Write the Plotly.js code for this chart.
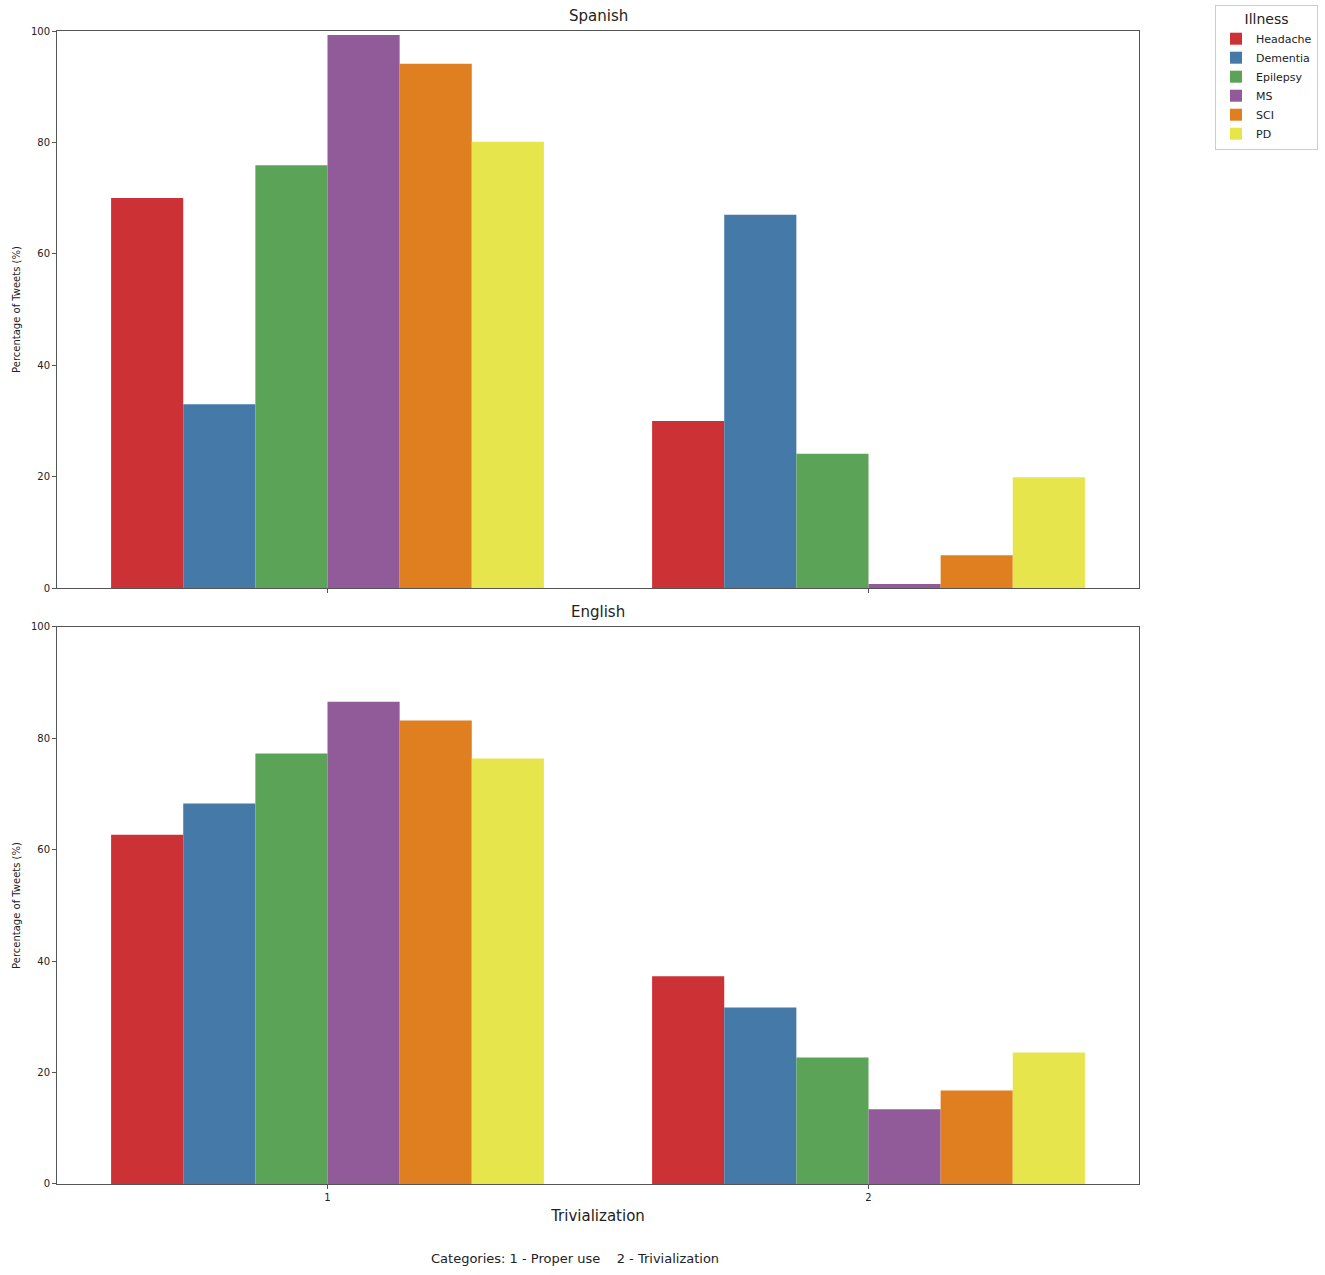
<!DOCTYPE html>
<html>
<head>
<meta charset="utf-8">
<script src="https://cdn.plot.ly/plotly-3.0.1.min.js"></script>
<style>
  body { margin: 0; background: #fff; }
  #chart { width: 1325px; height: 1275px; }
</style>
</head>
<body>
<div id="chart"></div>
<script>
// categories on the x axis
var categories = ['1', '2'];
var illnesses = ['Headache', 'Dementia', 'Epilepsy', 'MS', 'SCI', 'PD'];
var colors = ['#cc3135', '#457aa8', '#5ba357', '#915a99', '#e07f1f', '#e6e64c'];

// percentage of tweets, [proper use, trivialization]
var spanishHeadache = [70.0, 30.0];
var spanishDementia = [33.0, 67.0];
var spanishEpilepsy = [75.9, 24.1];
var spanishMS = [99.3, 0.7];
var spanishSCI = [94.1, 5.9];
var spanishPD = [80.1, 19.9];

var englishHeadache = [62.7, 37.3];
var englishDementia = [68.3, 31.7];
var englishEpilepsy = [77.3, 22.7];
var englishMS = [86.6, 13.4];
var englishSCI = [83.2, 16.8];
var englishPD = [76.4, 23.6];

var spanish = [spanishHeadache, spanishDementia, spanishEpilepsy, spanishMS, spanishSCI, spanishPD];
var english = [englishHeadache, englishDementia, englishEpilepsy, englishMS, englishSCI, englishPD];

var font = 'DejaVu Sans, sans-serif';
var data = [];

illnesses.forEach(function (name, i) {
  data.push({
    type: 'bar',
    name: name,
    x: categories,
    y: spanish[i],
    xaxis: 'x2',
    yaxis: 'y2',
    marker: {color: colors[i]},
    legendgroup: name,
    hoverinfo: 'y+name'
  });
  data.push({
    type: 'bar',
    name: name,
    x: categories,
    y: english[i],
    xaxis: 'x',
    yaxis: 'y',
    marker: {color: colors[i]},
    legendgroup: name,
    showlegend: false,
    hoverinfo: 'y+name'
  });
});

var yCommon = {
  range: [0, 100],
  tickvals: [0, 20, 40, 60, 80, 100],
  showgrid: false,
  zeroline: false,
  showline: true,
  mirror: true,
  linecolor: '#555',
  linewidth: 1,
  ticks: 'outside',
  ticklen: 4,
  tickcolor: '#555',
  tickfont: {family: font, size: 10, color: '#222'},
  title: {text: 'Percentage of Tweets (%)', font: {family: font, size: 10, color: '#222'}, standoff: 8}
};

var xCommon = {
  type: 'category',
  range: [-0.5, 1.5],
  showgrid: false,
  zeroline: false,
  showline: true,
  mirror: true,
  linecolor: '#555',
  ticks: 'outside',
  ticklen: 4,
  tickcolor: '#555',
  tickfont: {family: font, size: 10, color: '#222'}
};

var layout = {
  width: 1325,
  height: 1275,
  margin: {l: 57, r: 186, t: 31, b: 91},
  paper_bgcolor: '#fff',
  plot_bgcolor: '#fff',
  barmode: 'group',
  bargap: 0.2,
  bargroupgap: 0,
  font: {family: font, color: '#222'},
  xaxis: Object.assign({}, xCommon, {
    anchor: 'y',
    title: {text: 'Trivialization', font: {family: font, size: 15, color: '#222'}, standoff: 8}
  }),
  xaxis2: Object.assign({}, xCommon, {anchor: 'y2', matches: 'x', showticklabels: false}),
  yaxis: Object.assign({}, yCommon, {domain: [0, 0.4831], anchor: 'x'}),
  yaxis2: Object.assign({}, yCommon, {domain: [0.5169, 1], anchor: 'x2'}),
  legend: {
    xref: 'container',
    yref: 'container',
    x: 1215 / 1325,
    y: 1 - 5 / 1275,
    xanchor: 'left',
    yanchor: 'top',
    bgcolor: '#fff',
    bordercolor: '#ccc',
    borderwidth: 1,
    font: {family: font, size: 11, color: '#222'},
    title: {text: 'Illness', font: {family: font, size: 14, color: '#222'}, side: 'top center'},
    tracegroupgap: 0,
    itemwidth: 30
  },
  annotations: [
    {text: 'Spanish', xref: 'paper', yref: 'paper', x: 0.5, y: 1, yanchor: 'bottom', yshift: 4,
     showarrow: false, font: {family: font, size: 15, color: '#222'}},
    {text: 'English', xref: 'paper', yref: 'paper', x: 0.5, y: 0.4831, yanchor: 'bottom', yshift: 4,
     showarrow: false, font: {family: font, size: 15, color: '#222'}},
    {text: 'Categories: 1 - Proper use    2 - Trivialization', xref: 'paper', yref: 'paper',
     x: (575 - 57) / 1082, y: 0, yanchor: 'middle', yshift: -74,
     showarrow: false, font: {family: font, size: 13, color: '#222'}}
  ]
};

Plotly.newPlot('chart', data, layout, {showLink: false, displayModeBar: false});
</script>
</body>
</html>
